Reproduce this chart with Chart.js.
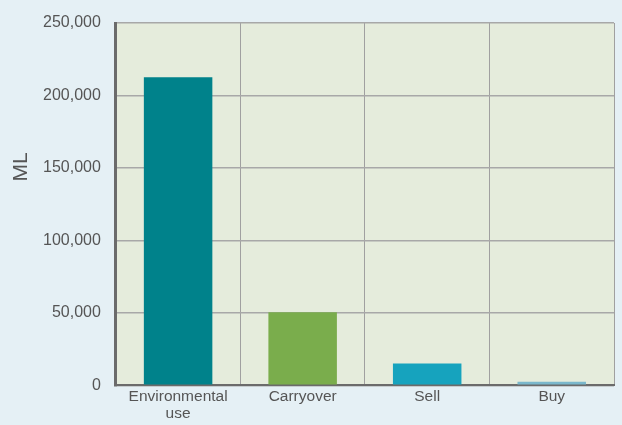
<!DOCTYPE html>
<html>
<head>
<meta charset="utf-8">
<script src="https://cdn.jsdelivr.net/npm/chart.js@4/dist/chart.umd.min.js"></script>
<style>
  html, body { margin: 0; padding: 0; background: #e5f0f5; }
  #wrap { width: 622px; height: 425px; }
</style>
</head>
<body>
<div id="wrap"><canvas id="waterChart"></canvas></div>
<script>
// Chart data
const categories = [['Environmental', 'use'], 'Carryover', 'Sell', 'Buy'];
const volumes = [212500, 50500, 15000, 2500];
const barColors = ['#00828b', '#7aad4c', '#16a3be', '#7ab8cc'];
const yTicks = [0, 50000, 100000, 150000, 200000, 250000];
const yTitle = 'ML';

const FONT = 'Liberation Sans, Arial, sans-serif';

// fill plot area with the pale green, and draw the y title a bit above centre
const plotExtras = {
    id: 'plotExtras',
    beforeDraw(chart) {
        const { ctx, chartArea: a } = chart;
        ctx.save();
        ctx.fillStyle = '#e5ecdc';
        ctx.fillRect(a.left, a.top, a.right - a.left, a.bottom - a.top);
        ctx.restore();
    },
    afterDraw(chart) {
        const { ctx } = chart;
        ctx.save();
        ctx.translate(21, 167);
        ctx.rotate(-Math.PI / 2);
        ctx.fillStyle = '#555';
        ctx.font = '21px ' + FONT;
        ctx.textAlign = 'center';
        ctx.textBaseline = 'middle';
        ctx.fillText(yTitle, 0, 0);
        ctx.restore();
    }
};

const ctx = document.getElementById('waterChart').getContext('2d');
const waterChart = new Chart(ctx, {
    type: 'bar',
    data: {
        labels: categories,
        datasets: [{
            data: volumes,
            backgroundColor: barColors,
            barPercentage: 0.55,
            categoryPercentage: 1.0
        }]
    },
    options: {
        responsive: true,
        maintainAspectRatio: false,
        animation: false,
        layout: { padding: { top: 0, right: 8, left: 28, bottom: 0 } },
        plugins: {
            legend: { display: false },
            tooltip: { enabled: false }
        },
        scales: {
            x: {
                grid: { color: '#a0a0a0', lineWidth: 1, drawTicks: false, offset: true },
                border: { color: '#6b6b6b', width: 2 },
                ticks: {
                    color: '#555',
                    font: { family: FONT, size: 15.5, lineHeight: 1.15 },
                    padding: 2,
                    maxRotation: 0
                }
            },
            y: {
                min: 0,
                max: 250000,
                afterBuildTicks: (axis) => { axis.ticks = yTicks.map(v => ({ value: v })); },
                grid: { color: '#a8a8a8', lineWidth: 1.5, drawTicks: false },
                border: { color: '#6b6b6b', width: 3 },
                ticks: {
                    color: '#555',
                    font: { family: FONT, size: 16, lineHeight: 1.0 },
                    padding: 15,
                    callback: (v) => v.toLocaleString('en-US')
                }
            }
        }
    },
    plugins: [plotExtras]
});
</script>
</body>
</html>
